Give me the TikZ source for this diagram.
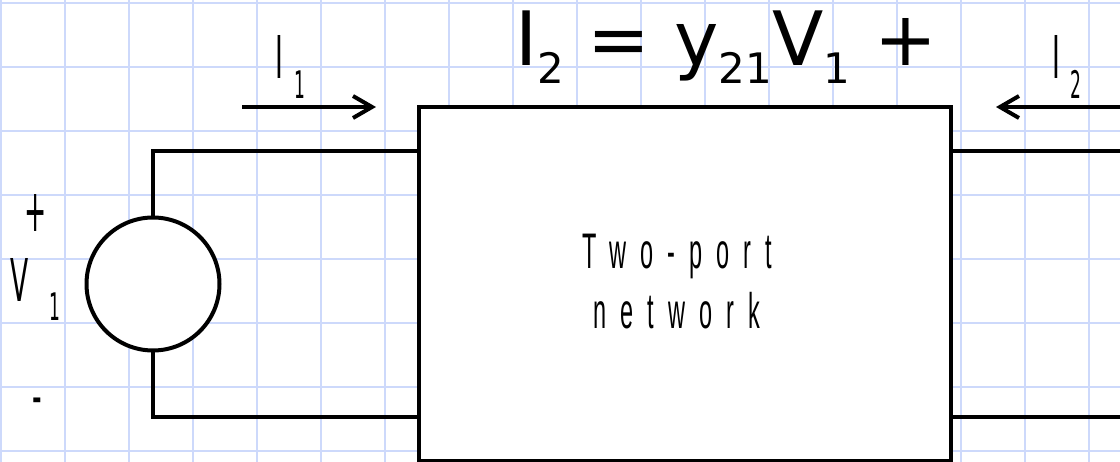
\documentclass[tikz,border=0pt]{standalone}
\usepackage{fontspec}
\usetikzlibrary{arrows.meta}
\setmainfont{DejaVu Sans}
\newfontfamily\labelfont[FakeStretch=0.45]{DejaVu Sans}
\newfontfamily\boxfont[FakeStretch=0.47,LetterSpace=28]{Liberation Sans}
\newcommand{\titlesub}[1]{\raisebox{-18pt}{\fontsize{42}{42}\selectfont #1}}
\definecolor{gridblue}{HTML}{CDD9FB}

\begin{document}
\begin{tikzpicture}[
  x=1pt, y=-1pt,
  gridline/.style={draw=gridblue, line width=1.5pt},
  wire/.style={draw=black, line width=4pt},
  arrow/.style={wire, -{Straight Barb[length=19pt,width=22pt]}},
  title/.style={anchor=base west, inner sep=0pt, font=\fontsize{75}{75}\selectfont},
  bigtext/.style={anchor=base, inner sep=0pt, font=\labelfont\fontsize{59}{59}\selectfont},
  subtext/.style={anchor=base, inner sep=0pt, font=\labelfont\fontsize{38}{38}\selectfont}
]
\useasboundingbox (0,0) rectangle (1120,462);

%% Background grid
\foreach \gx in {1,65,...,1089}
  \draw[gridline] (\gx,0) -- (\gx,462);
\foreach \gy in {3,67,...,451}
  \draw[gridline] (0,\gy) -- (1120,\gy);

%% Network and source
\node[rectangle, draw, fill=white, line width=4pt, outer sep=0pt, minimum width=532pt,
      minimum height=354pt] at (684.5,284) (box) {};
\node[circle, draw, fill=white, line width=4pt, outer sep=0pt, minimum size=133pt] at (153,284) (source) {};
\node[anchor=base, align=center, inner sep=0pt, font=\boxfont\fontsize{50}{60}\selectfont]
  at (677,329) (boxtext) {Two-port\\network};

%% Free ends
\coordinate (topend) at (1120,151);
\coordinate (botend) at (1120,417);
\coordinate (ione) at (242,107);
\coordinate (ioneend) at (376,107);
\coordinate (itwo) at (1120,107);
\coordinate (itwoend) at (996,107);

%% Leads
\draw[wire] (source.north) |- (box.west |- topend);
\draw[wire] (source.south) |- (box.west |- botend);
\draw[wire] (box.east |- topend) -- (topend);
\draw[wire] (box.east |- botend) -- (botend);

%% Current arrows
\draw[arrow] (ione) -- (ioneend);
\draw[arrow] (itwo) -- (itwoend);

%% Labels
\node[title] at (515,66) (eqn) {I\titlesub{2} = y\titlesub{21}V\titlesub{1} +};
\node[bigtext] at (279,79) (ilabel) {I};
\node[subtext] at (300,99) (isub) {1};
\node[bigtext] at (1056,79) (jlabel) {I};
\node[subtext] at (1076,99) (jsub) {2};
\node[bigtext] at (36,232) (plus) {+};
\node[bigtext] at (20,302) (vlabel) {V};
\node[subtext] at (55,321) (vsub) {1};
\node[bigtext] at (37,417) (minus) {-};
\end{tikzpicture}
\end{document}
